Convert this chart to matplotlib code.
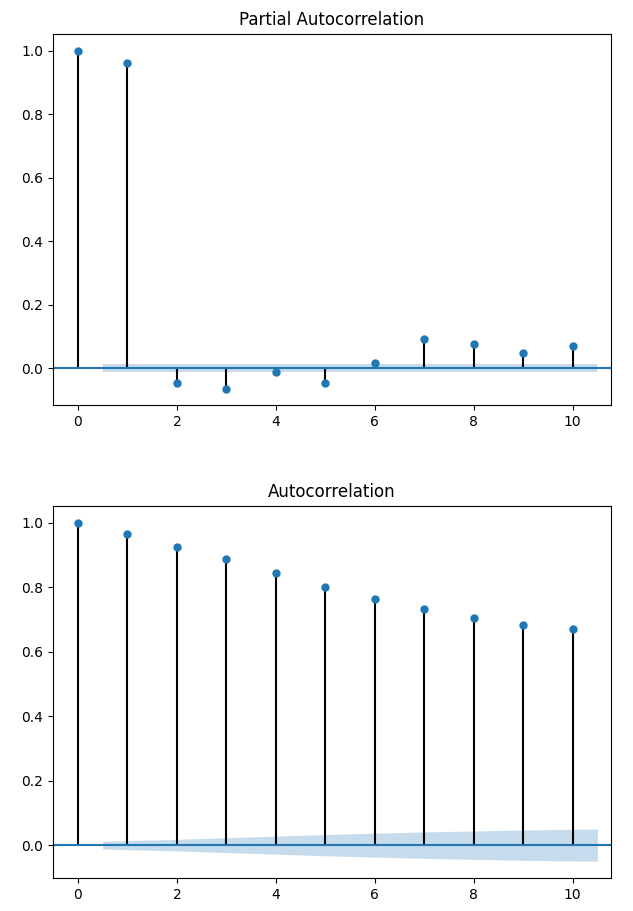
import numpy as np
import matplotlib
matplotlib.use("Agg")
import matplotlib.pyplot as plt

lags = [0, 1, 2, 3, 4, 5, 6, 7, 8, 9, 10]
pacf_vals = [1.0, 0.962, -0.047, -0.064, -0.012, -0.047, 0.015, 0.092, 0.075, 0.049, 0.069]
acf_vals = [1.0, 0.965, 0.925, 0.886, 0.844, 0.801, 0.764, 0.732, 0.704, 0.683, 0.671]
# half width of the shaded confidence band at lags 1..10
pacf_band = [0.012, 0.012, 0.012, 0.012, 0.012, 0.012, 0.012, 0.012, 0.012, 0.012]
acf_band = [0.012, 0.018, 0.023, 0.028, 0.033, 0.037, 0.041, 0.044, 0.047, 0.050]


def corr_plot(ax, vals, band, title):
    x = np.array(lags, dtype=float)
    ax.vlines(x, 0, vals, color="black")
    ax.axhline(0, color="C0")
    ax.plot(x, vals, "o", color="C0", markersize=5)
    bx = x[1:].copy()
    bx[0] -= 0.5
    bx[-1] += 0.5
    b = np.array(band)
    ax.fill_between(bx, -b, b, alpha=0.25, linewidth=0, color="C0")
    ax.set_title(title)
    ax.set_xlim(-0.5, 10.77)


fig = plt.figure(figsize=(6.33, 9.11), dpi=100)
ax1 = fig.add_axes([0.084, 0.555, 0.881, 0.408])
ax2 = fig.add_axes([0.084, 0.036, 0.881, 0.409])

corr_plot(ax1, pacf_vals, pacf_band, "Partial Autocorrelation")
corr_plot(ax2, acf_vals, acf_band, "Autocorrelation")

fig.savefig("out.png", dpi=100)
